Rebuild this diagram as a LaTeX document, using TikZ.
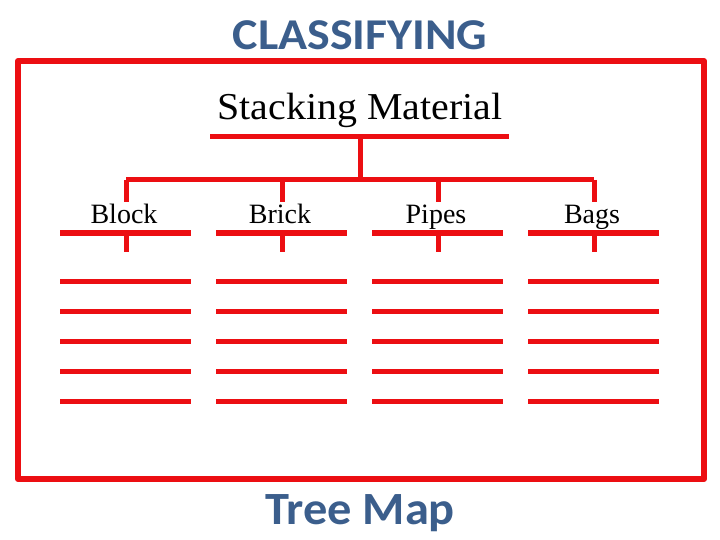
\documentclass[tikz,border=0pt]{standalone}
\usepackage{fontspec}
\setmainfont{Liberation Serif}
\newfontfamily\headfont{Carlito}
\definecolor{treered}{RGB}{236,14,18}
\definecolor{headblue}{RGB}{59,94,140}
\begin{document}
\begin{tikzpicture}[x=1pt,y=-1pt,
  redline/.style={draw=treered,line width=5pt},
  framebox/.style={draw=treered,line width=6pt,line join=round},
  headtext/.style={font=\headfont\bfseries\fontsize{44}{48}\selectfont,text=headblue,inner sep=0pt,anchor=base},
  roottext/.style={font=\fontsize{38}{42}\selectfont,inner sep=0pt,anchor=base},
  cattext/.style={font=\fontsize{28}{30}\selectfont,inner sep=0pt,anchor=base}]
\useasboundingbox (0,0) rectangle (720,540);
\fill[white] (0,0) rectangle (720,540);
\node[headtext,xscale=1.09] (title) at (360,50) {CLASSIFYING};
\node[headtext,xscale=1.1,yscale=1.05] (foot) at (360,524) {Tree Map};
\draw[framebox] (18,61) rectangle (704,479);
\node[roottext,xscale=1.05] (root) at (360,120) {Stacking Material};
\coordinate (rootL) at (210,137);
\coordinate (rootR) at (509,137);
\coordinate (rootM) at (360,137);
\coordinate (branch) at (360,180);
\draw[redline] (rootL) -- (rootR);
\draw[redline] (rootM) -- (branch);
\draw[redline] (126,180) -- (594,180);
\foreach \x/\name/\lab in {126/block/Block,282/brick/Brick,438/pipes/Pipes,594/bags/Bags}{
  \coordinate (\name-top) at (\x,180);
  \coordinate (\name-drop) at (\x,202);
  \draw[redline] (\name-top) -- (\name-drop);
  \node[cattext] (\name) at (\x-2,224) {\lab};
  \coordinate (\name-l) at (\x-66,233);
  \coordinate (\name-r) at (\x+65,233);
  \draw[redline] (\name-l) -- (\name-r);
  \coordinate (\name-s) at (\x,233);
  \coordinate (\name-e) at (\x,252);
  \draw[redline] (\name-s) -- (\name-e);
  \foreach \y in {281,311,341,371,401}{
    \draw[redline] (\x-66,\y) -- (\x+65,\y);
  }
}
\end{tikzpicture}
\end{document}
